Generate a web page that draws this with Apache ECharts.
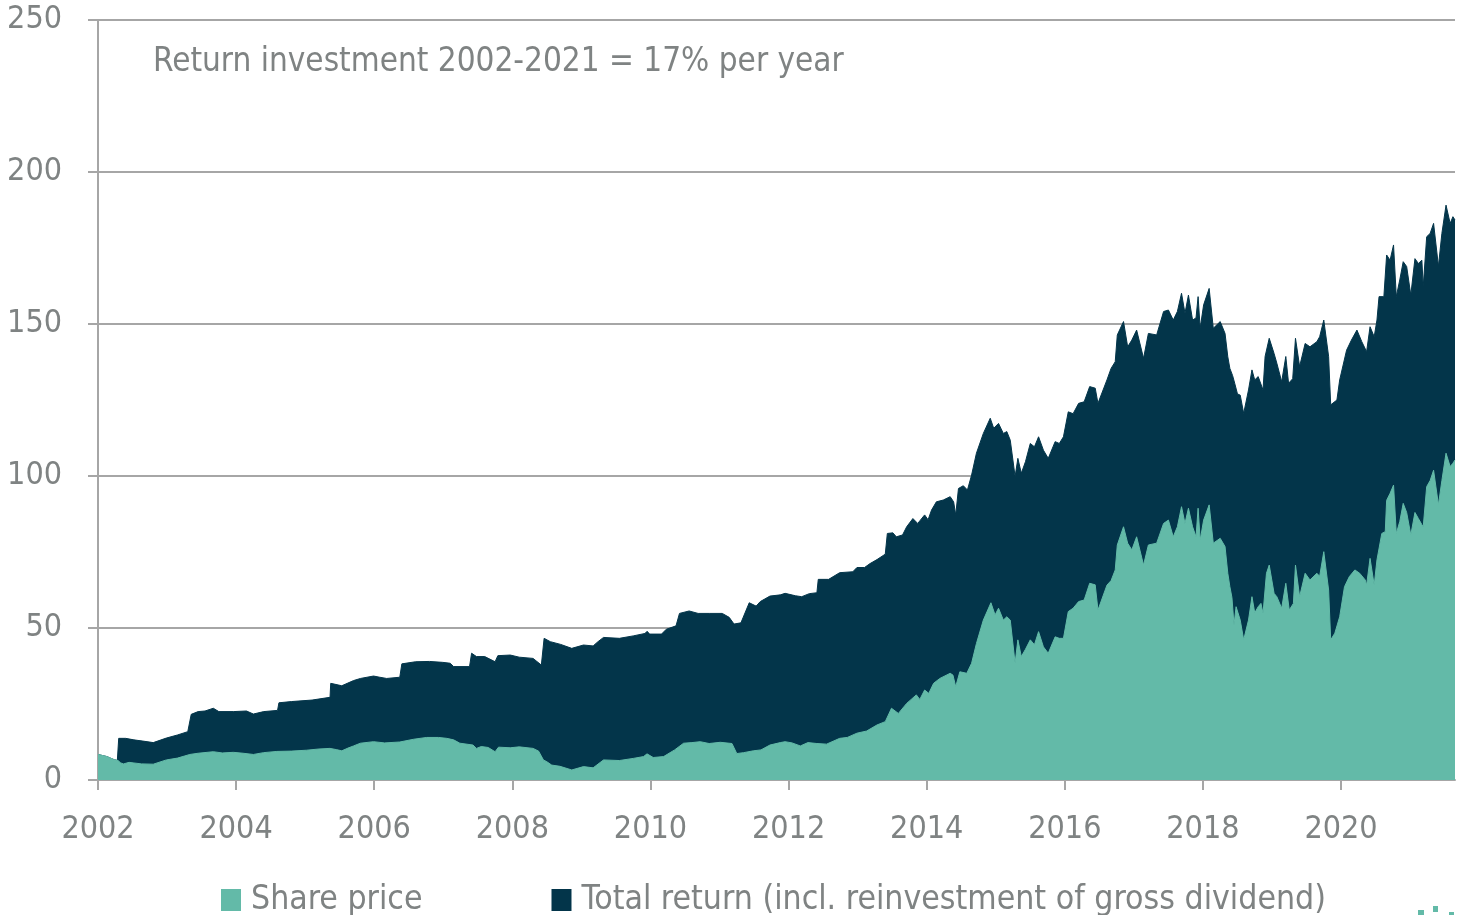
<!DOCTYPE html>
<html>
<head>
<meta charset="utf-8">
<title>Share price and total return 2002-2021</title>
<script src="https://cdn.jsdelivr.net/npm/echarts@6/dist/echarts.min.js"></script>
<style>
  html, body { margin: 0; padding: 0; background: #ffffff; }
  #chart { width: 1461px; height: 915px; }
</style>
</head>
<body>
<div id="chart"></div>
<script>
// Indexed value of one share, [decimal year, value]
const sharePrice = [
  [2002.00, 8.4], [2002.02, 8.2], [2002.13, 7.7], [2002.22, 6.8], [2002.29, 6.4], [2002.33, 5.6],
  [2002.37, 5.3], [2002.45, 5.8], [2002.52, 5.6], [2002.63, 5.3], [2002.80, 5.2], [2002.99, 6.6],
  [2003.15, 7.2], [2003.33, 8.4], [2003.45, 8.8], [2003.67, 9.3], [2003.80, 8.9], [2003.96, 9.1],
  [2004.10, 8.8], [2004.25, 8.4], [2004.40, 9.0], [2004.59, 9.4], [2004.80, 9.5], [2005.02, 9.8],
  [2005.20, 10.2], [2005.36, 10.4], [2005.45, 10.0], [2005.53, 9.6], [2005.62, 10.5], [2005.70, 11.2],
  [2005.80, 12.1], [2005.99, 12.6], [2006.15, 12.2], [2006.37, 12.5], [2006.57, 13.4], [2006.76, 14.0],
  [2006.93, 14.0], [2007.05, 13.7], [2007.15, 13.2], [2007.24, 12.1], [2007.43, 11.5], [2007.48, 10.4],
  [2007.55, 11.0], [2007.65, 10.7], [2007.75, 9.3], [2007.80, 10.8], [2007.97, 10.6], [2008.10, 10.9],
  [2008.30, 10.4], [2008.38, 9.5], [2008.45, 6.6], [2008.50, 6.0], [2008.57, 4.9], [2008.69, 4.5],
  [2008.86, 3.3], [2009.03, 4.4], [2009.17, 4.0], [2009.32, 6.6], [2009.55, 6.4], [2009.75, 7.1],
  [2009.90, 7.7], [2009.95, 8.6], [2010.04, 7.4], [2010.19, 7.7], [2010.35, 9.9], [2010.48, 12.1],
  [2010.60, 12.3], [2010.72, 12.6], [2010.85, 12.0], [2011.01, 12.4], [2011.18, 12.0], [2011.25, 8.7],
  [2011.35, 9.0], [2011.49, 9.6], [2011.60, 9.9], [2011.73, 11.5], [2011.88, 12.3], [2011.95, 12.6],
  [2012.05, 12.2], [2012.17, 11.2], [2012.28, 12.3], [2012.41, 12.0], [2012.55, 11.8], [2012.74, 13.7],
  [2012.85, 14.0], [2012.99, 15.4], [2013.13, 16.1], [2013.28, 18.1], [2013.40, 19.2], [2013.49, 23.6],
  [2013.59, 21.9], [2013.71, 25.2], [2013.85, 28.0], [2013.90, 26.5], [2013.97, 29.6], [2014.03, 28.5],
  [2014.10, 31.8], [2014.19, 33.4], [2014.34, 35.1], [2014.38, 34.5], [2014.42, 30.7], [2014.48, 35.6],
  [2014.58, 35.1], [2014.65, 38.4], [2014.72, 44.9], [2014.82, 52.6], [2014.93, 58.3], [2014.99, 54.3],
  [2015.04, 56.5], [2015.11, 52.6], [2015.16, 53.7], [2015.21, 52.6], [2015.28, 38.4], [2015.32, 46.1],
  [2015.37, 40.6], [2015.43, 43.0], [2015.50, 46.1], [2015.56, 44.5], [2015.62, 48.8], [2015.69, 43.8],
  [2015.76, 41.7], [2015.86, 47.1], [2015.92, 46.6], [2015.98, 46.6], [2016.05, 55.4], [2016.12, 56.5],
  [2016.20, 58.7], [2016.28, 59.2], [2016.36, 64.7], [2016.44, 64.2], [2016.48, 55.9], [2016.61, 64.1],
  [2016.67, 65.6], [2016.73, 69.1], [2016.76, 77.3], [2016.85, 83.3], [2016.91, 77.9], [2016.97, 75.7],
  [2017.04, 80.0], [2017.14, 70.7], [2017.21, 77.3], [2017.33, 77.9], [2017.43, 84.4], [2017.50, 85.5],
  [2017.57, 80.0], [2017.63, 83.3], [2017.69, 89.9], [2017.74, 84.4], [2017.79, 89.4], [2017.85, 83.3],
  [2017.90, 80.0], [2017.93, 89.4], [2017.96, 78.9], [2018.01, 85.5], [2018.09, 90.5], [2018.15, 77.9],
  [2018.25, 79.5], [2018.32, 76.8], [2018.36, 68.0], [2018.39, 63.6], [2018.42, 60.0], [2018.45, 51.0],
  [2018.48, 57.0], [2018.54, 52.6], [2018.59, 46.1], [2018.66, 52.6], [2018.71, 60.3], [2018.75, 55.0],
  [2018.80, 57.0], [2018.84, 58.1], [2018.87, 54.8], [2018.92, 68.0], [2018.96, 70.7], [2019.03, 61.4],
  [2019.07, 60.3], [2019.14, 56.5], [2019.20, 64.7], [2019.25, 55.9], [2019.31, 58.1], [2019.34, 70.7],
  [2019.40, 60.3], [2019.48, 68.0], [2019.55, 65.8], [2019.65, 68.0], [2019.69, 67.0], [2019.75, 75.1],
  [2019.82, 62.5], [2019.85, 46.1], [2019.91, 48.3], [2019.98, 53.7], [2020.05, 63.6], [2020.12, 66.9],
  [2020.20, 69.1], [2020.27, 68.0], [2020.35, 65.8], [2020.37, 64.1], [2020.42, 72.9], [2020.48, 64.1],
  [2020.52, 72.4], [2020.59, 81.1], [2020.64, 81.7], [2020.66, 92.0], [2020.71, 94.3], [2020.76, 97.0],
  [2020.80, 81.1], [2020.85, 85.0], [2020.90, 91.0], [2020.95, 88.0], [2021.01, 80.6], [2021.07, 88.0],
  [2021.12, 86.0], [2021.17, 84.0], [2021.19, 83.3], [2021.24, 96.5], [2021.29, 98.5], [2021.34, 101.9],
  [2021.41, 90.5], [2021.46, 98.5], [2021.52, 107.5], [2021.58, 103.1], [2021.62, 104.2], [2021.65, 105.3]
];

// Same investment with gross dividends reinvested, [decimal year, value]
const totalReturn = [
  [2002.00, 8.4], [2002.02, 8.2], [2002.13, 7.7], [2002.22, 6.8], [2002.28, 6.4], [2002.30, 13.7],
  [2002.40, 13.7], [2002.52, 13.2], [2002.65, 12.8], [2002.80, 12.3], [2002.99, 13.8], [2003.15, 14.8],
  [2003.30, 15.9], [2003.35, 21.6], [2003.45, 22.5], [2003.55, 22.7], [2003.67, 23.6], [2003.75, 22.5],
  [2003.96, 22.5], [2004.15, 22.7], [2004.25, 21.7], [2004.40, 22.5], [2004.60, 22.9], [2004.62, 25.4],
  [2004.80, 25.8], [2005.10, 26.3], [2005.36, 27.2], [2005.37, 31.8], [2005.53, 31.0], [2005.70, 32.7],
  [2005.80, 33.4], [2005.99, 34.2], [2006.08, 33.8], [2006.18, 33.4], [2006.37, 33.8], [2006.40, 38.2],
  [2006.60, 38.9], [2006.80, 39.0], [2006.99, 38.7], [2007.10, 38.4], [2007.15, 37.3], [2007.38, 37.3],
  [2007.41, 41.7], [2007.48, 40.6], [2007.60, 40.6], [2007.75, 38.9], [2007.79, 40.9], [2007.97, 41.1],
  [2008.10, 40.4], [2008.30, 40.0], [2008.42, 37.8], [2008.46, 46.6], [2008.55, 45.5], [2008.70, 44.6],
  [2008.86, 43.3], [2009.03, 44.4], [2009.17, 44.1], [2009.24, 45.5], [2009.32, 46.9], [2009.55, 46.6],
  [2009.75, 47.4], [2009.92, 48.2], [2009.95, 48.9], [2009.99, 48.0], [2010.16, 48.0], [2010.23, 49.6],
  [2010.37, 50.7], [2010.42, 54.8], [2010.56, 55.6], [2010.69, 54.8], [2010.85, 54.8], [2011.04, 54.8],
  [2011.14, 53.5], [2011.21, 51.3], [2011.31, 51.7], [2011.43, 58.3], [2011.53, 57.2], [2011.59, 58.7],
  [2011.73, 60.5], [2011.88, 60.9], [2011.95, 61.4], [2012.10, 60.6], [2012.19, 60.3], [2012.30, 61.3],
  [2012.41, 61.6], [2012.43, 66.0], [2012.58, 66.0], [2012.74, 68.2], [2012.93, 68.5], [2012.99, 69.9],
  [2013.10, 69.9], [2013.18, 71.2], [2013.28, 72.5], [2013.40, 74.3], [2013.43, 81.1], [2013.51, 81.3],
  [2013.56, 80.0], [2013.65, 80.6], [2013.71, 83.3], [2013.80, 86.0], [2013.87, 84.4], [2013.97, 87.2],
  [2014.02, 85.6], [2014.07, 88.8], [2014.14, 91.5], [2014.24, 92.1], [2014.34, 93.2], [2014.39, 91.5],
  [2014.42, 87.2], [2014.46, 95.9], [2014.53, 96.8], [2014.59, 95.4], [2014.65, 100.3], [2014.72, 107.5],
  [2014.82, 114.0], [2014.92, 119.0], [2014.97, 115.7], [2015.04, 117.3], [2015.11, 114.0], [2015.16, 114.6],
  [2015.21, 111.8], [2015.28, 99.8], [2015.32, 105.8], [2015.37, 100.9], [2015.43, 104.7], [2015.50, 110.7],
  [2015.56, 109.6], [2015.62, 112.9], [2015.69, 108.5], [2015.76, 105.8], [2015.86, 111.3], [2015.92, 110.7],
  [2015.98, 112.9], [2016.05, 121.1], [2016.12, 120.5], [2016.20, 123.9], [2016.28, 124.4], [2016.36, 129.4],
  [2016.44, 128.9], [2016.48, 123.9], [2016.61, 131.6], [2016.67, 135.4], [2016.73, 137.6], [2016.76, 146.4],
  [2016.85, 150.8], [2016.91, 142.5], [2016.97, 144.7], [2017.04, 148.0], [2017.14, 138.7], [2017.21, 146.9],
  [2017.33, 146.4], [2017.43, 154.1], [2017.50, 154.6], [2017.57, 151.3], [2017.63, 154.1], [2017.69, 160.1],
  [2017.74, 153.5], [2017.79, 159.5], [2017.85, 151.3], [2017.90, 152.0], [2017.93, 159.0], [2017.96, 148.6],
  [2018.01, 156.3], [2018.09, 161.7], [2018.15, 148.6], [2018.25, 150.8], [2018.32, 146.9], [2018.36, 139.2],
  [2018.39, 135.4], [2018.43, 133.0], [2018.46, 130.5], [2018.50, 127.0], [2018.54, 126.6], [2018.59, 120.6],
  [2018.66, 128.3], [2018.71, 134.9], [2018.75, 131.6], [2018.80, 132.7], [2018.87, 128.3], [2018.90, 139.3],
  [2018.96, 145.3], [2019.03, 140.3], [2019.07, 137.1], [2019.14, 131.0], [2019.20, 139.3], [2019.24, 130.5],
  [2019.30, 132.0], [2019.34, 145.3], [2019.40, 136.0], [2019.48, 143.6], [2019.55, 142.5], [2019.65, 144.2],
  [2019.69, 145.8], [2019.75, 151.3], [2019.82, 139.3], [2019.85, 123.4], [2019.94, 125.0], [2019.98, 131.6],
  [2020.08, 141.4], [2020.15, 144.7], [2020.23, 148.0], [2020.30, 144.2], [2020.37, 140.9], [2020.42, 149.1],
  [2020.48, 145.8], [2020.52, 151.3], [2020.55, 159.0], [2020.62, 159.0], [2020.66, 172.7], [2020.71, 171.0],
  [2020.76, 176.0], [2020.80, 159.0], [2020.85, 164.5], [2020.90, 170.5], [2020.95, 168.9], [2021.01, 159.5],
  [2021.07, 171.5], [2021.12, 169.9], [2021.17, 171.0], [2021.19, 162.3], [2021.24, 178.7], [2021.29, 179.8],
  [2021.34, 183.1], [2021.41, 169.0], [2021.46, 179.8], [2021.52, 189.1], [2021.58, 183.1], [2021.62, 185.3],
  [2021.65, 184.2]
];

const seriesNames = ['Share price', 'Total return (incl. reinvestment of gross dividend)'];
const headline = 'Return investment 2002-2021 = 17% per year';
const xRange = { min: 2002, max: 2021.65, step: 2 };
const yRange = { min: 0, max: 250, step: 50 };

const TEAL = '#63baa8';
const NAVY = '#03354a';
const GREY_TEXT = '#7f8383';
const GREY_LINE = '#a6a6a6';
const FONT = "'DejaVu Sans Condensed', 'Liberation Sans Narrow', 'Open Sans', sans-serif";

const chart = echarts.init(document.getElementById('chart'), null, { renderer: 'canvas' });

chart.setOption({
  animation: false,
  backgroundColor: '#ffffff',
  textStyle: { fontFamily: FONT },
  grid: { left: 98, right: 6, top: 20, bottom: 135, containLabel: false, outerBoundsMode: 'none' },
  title: {
    text: headline,
    left: 148,
    top: 41,
    textStyle: { fontFamily: FONT, fontSize: 33, fontWeight: 'normal', color: GREY_TEXT }
  },
  legend: {
    data: seriesNames,
    left: 216,
    top: 878,
    icon: 'rect',
    itemWidth: 20,
    itemHeight: 22,
    itemGap: 129,
    textStyle: { fontFamily: FONT, fontSize: 33.5, color: GREY_TEXT, padding: [0, 0, 0, 5] }
  },
  xAxis: {
    type: 'value',
    min: xRange.min,
    max: xRange.max,
    interval: xRange.step,
    axisLine: { show: true, lineStyle: { color: GREY_LINE, width: 2 } },
    axisTick: { show: true, inside: false, length: 10, lineStyle: { color: GREY_LINE, width: 2 } },
    splitLine: { show: false },
    axisLabel: {
      fontFamily: FONT, fontSize: 32, color: GREY_TEXT, margin: 34,
      showMaxLabel: false,
      formatter: v => String(Math.round(v))
    }
  },
  yAxis: {
    type: 'value',
    min: yRange.min,
    max: yRange.max,
    interval: yRange.step,
    axisLine: { show: true, lineStyle: { color: GREY_LINE, width: 2 } },
    axisTick: { show: true, inside: false, length: 10, lineStyle: { color: GREY_LINE, width: 2 } },
    splitLine: { show: true, lineStyle: { color: GREY_LINE, width: 2 } },
    axisLabel: { fontFamily: FONT, fontSize: 32, color: GREY_TEXT, margin: 36 }
  },
  series: [
    {
      name: seriesNames[0],
      type: 'line',
      data: sharePrice,
      z: 3,
      showSymbol: false,
      symbol: 'none',
      itemStyle: { color: TEAL },
      lineStyle: { color: TEAL, width: 1 },
      areaStyle: { color: TEAL, opacity: 1, origin: 'start' }
    },
    {
      name: seriesNames[1],
      type: 'line',
      data: totalReturn,
      z: 2,
      showSymbol: false,
      symbol: 'none',
      itemStyle: { color: NAVY },
      lineStyle: { color: NAVY, width: 1 },
      areaStyle: { color: NAVY, opacity: 1, origin: 'start' }
    }
  ],
  graphic: [
    { type: 'rect', left: 1418, top: 910, shape: { width: 6, height: 5 }, style: { fill: TEAL } },
    { type: 'rect', left: 1433, top: 906, shape: { width: 5, height: 6 }, style: { fill: TEAL } },
    { type: 'rect', left: 1449, top: 912, shape: { width: 5, height: 3 }, style: { fill: TEAL } }
  ]
});
</script>
</body>
</html>
